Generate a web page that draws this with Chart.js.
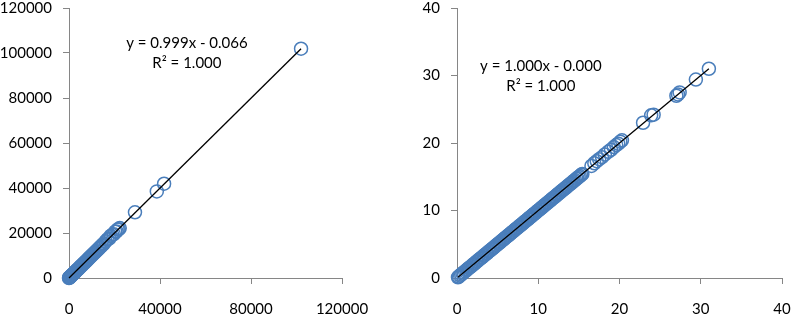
<!DOCTYPE html>
<html>
<head>
<meta charset="utf-8">
<script src="https://cdn.jsdelivr.net/npm/chart.js@4/dist/chart.umd.min.js"></script>
<style>
  body { margin: 0; background: #fff; }
  #wrap { position: relative; width: 793px; height: 315px; }
  canvas { position: absolute; top: 0; }
</style>
</head>
<body>
<div id="wrap">
  <canvas id="leftChart" width="400" height="315" style="left:0"></canvas>
  <canvas id="rightChart" width="393" height="315" style="left:400px"></canvas>
</div>
<script>
// Left panel data
const leftX = [0, 120, 260, 410, 580, 760, 950, 1150, 1380, 1600, 1850, 2100, 2380, 2650, 2950,
  3250, 3560, 3880, 4200, 4550, 4900, 5250, 5620, 6000, 6380, 6770, 7150, 7560, 7980, 8400,
  8820, 9250, 9700, 10150, 10600, 11050, 11500, 11950, 12400, 12850, 13300, 13800, 14300, 14800,
  15300, 16100, 16900, 17600, 18300, 19000, 19700, 20300, 20900, 21400, 21900, 22300,
  29000, 38600, 41800, 102000];
const leftY = [0, 118, 262, 409, 577, 761, 948, 1149, 1379, 1598, 1848, 2098, 2380, 2647, 2948,
  3247, 3557, 3876, 4197, 4546, 4895, 5246, 5614, 5995, 6374, 6763, 7143, 7553, 7971, 8392,
  8811, 9241, 9690, 10140, 10590, 11040, 11488, 11938, 12388, 12837, 13287, 13786, 14286, 14785,
  15284, 16300, 17200, 17500, 18700, 19200, 19500, 20600, 20700, 21600, 21700, 22200,
  29200, 38500, 41900, 101900];
const leftFit = { slope: 0.999, intercept: -0.066 };
const leftLabels = ['y = 0.999x - 0.066', 'R\u00b2 = 1.000'];

// Right panel data
const rightX = [0.12, 0.21, 0.38, 0.52, 0.67, 0.81, 0.99, 1.13, 1.27, 1.44,
  1.58, 1.73, 1.92, 2.04, 2.19, 2.37, 2.50, 2.66, 2.83, 2.97,
  3.11, 3.28, 3.42, 3.57, 3.71, 3.89, 4.02, 4.16, 4.33, 4.47,
  4.62, 4.78, 4.91, 5.07, 5.22, 5.36, 5.53, 5.68, 5.81, 5.96,
  6.13, 6.27, 6.41, 6.58, 6.72, 6.86, 7.03, 7.18, 7.31, 7.47,
  7.62, 7.77, 7.93, 8.06, 8.22, 8.37, 8.51, 8.68, 8.82, 8.96,
  9.12, 9.27, 9.43, 9.56, 9.71, 9.88, 10.02, 10.17, 10.33, 10.46,
  10.62, 10.77, 10.91, 11.08, 11.21, 11.37, 11.52, 11.66, 11.83, 11.97,
  12.11, 12.28, 12.42, 12.57, 12.73, 12.88, 13.02, 13.16, 13.33, 13.47,
  13.61, 13.78, 13.92, 14.06, 14.23, 14.37, 14.52, 14.68, 14.81, 14.97,
  15.12, 15.28, 15.43,
  16.55, 16.9, 17.2, 17.5, 17.85, 18.2, 18.6, 18.95, 19.3, 19.6, 19.85, 20.1, 20.3,
  22.9, 23.9, 24.2, 27.0, 27.2, 27.4, 29.4, 31.0];
const rightY = [0.11, 0.22, 0.37, 0.53, 0.66, 0.82, 0.98, 1.14, 1.26, 1.45,
  1.57, 1.74, 1.91, 2.05, 2.18, 2.38, 2.49, 2.67, 2.82, 2.98,
  3.10, 3.29, 3.41, 3.58, 3.70, 3.90, 4.01, 4.17, 4.32, 4.48,
  4.61, 4.79, 4.90, 5.08, 5.21, 5.37, 5.52, 5.69, 5.80, 5.97,
  6.12, 6.28, 6.40, 6.59, 6.71, 6.87, 7.02, 7.19, 7.30, 7.48,
  7.61, 7.78, 7.92, 8.07, 8.21, 8.38, 8.50, 8.69, 8.81, 8.97,
  9.11, 9.28, 9.42, 9.57, 9.70, 9.89, 10.01, 10.18, 10.32, 10.47,
  10.61, 10.78, 10.90, 11.09, 11.20, 11.38, 11.51, 11.67, 11.82, 11.98,
  12.10, 12.29, 12.41, 12.58, 12.72, 12.89, 13.01, 13.17, 13.32, 13.48,
  13.60, 13.79, 13.91, 14.07, 14.22, 14.38, 14.51, 14.69, 14.80, 14.98,
  15.11, 15.29, 15.42,
  16.6, 17.0, 17.3, 17.6, 17.9, 18.3, 18.7, 19.0, 19.4, 19.7, 19.9, 20.2, 20.4,
  23.0, 24.1, 24.2, 27.0, 27.2, 27.5, 29.4, 31.0];
const rightFit = { slope: 1.000, intercept: -0.000 };
const rightLabels = ['y = 1.000x - 0.000', 'R\u00b2 = 1.000'];

const axisGray = '#868686';
const markerBlue = '#4a7ebb';
const fontSpec = { family: 'Lato, "Open Sans", sans-serif', size: 15 };

// draws the trendline equation text
const fitLabel = {
    id: 'fitLabel',
    afterDatasetsDraw(chart, args, opts) {
        const { ctx, chartArea: a } = chart;
        const x = a.left + opts.fx * (a.right - a.left);
        const y = a.top + opts.fy * (a.bottom - a.top);
        ctx.save();
        ctx.font = '15px Lato, "Open Sans", sans-serif';
        ctx.fillStyle = '#000';
        ctx.textAlign = 'center';
        ctx.textBaseline = 'middle';
        opts.lines.forEach((t, i) => ctx.fillText(t, x, y + i * 20));
        ctx.restore();
    }
};

function axis(max, step, pad, fitFn) {
    return {
        type: 'linear',
        min: 0,
        max: max,
        ticks: { stepSize: step, color: '#000', font: fontSpec, padding: pad, callback: v => String(v) },
        grid: { drawOnChartArea: false, drawTicks: true, tickLength: 6, color: axisGray },
        border: { display: true, color: axisGray, width: 1 },
        afterFit: fitFn
    };
}

function makeChart(id, xs, ys, fit, labels, cfg) {
    const points = xs.map((x, i) => ({ x: x, y: ys[i] }));
    const x0 = xs[0], x1 = xs[xs.length - 1];
    const trend = [
        { x: x0, y: fit.slope * x0 + fit.intercept },
        { x: x1, y: fit.slope * x1 + fit.intercept }
    ];
    return new Chart(document.getElementById(id), {
        type: 'scatter',
        data: {
            datasets: [{
                data: points,
                pointRadius: 6.5,
                pointBorderWidth: 1.5,
                pointBorderColor: markerBlue,
                pointBackgroundColor: 'rgba(0,0,0,0)',
                clip: false,
                order: 1
            }, {
                type: 'line',
                data: trend,
                borderColor: '#000',
                borderWidth: 1.3,
                pointRadius: 0,
                fill: false,
                clip: false,
                order: 0
            }]
        },
        options: {
            responsive: false,
            animation: false,
            layout: { padding: { top: cfg.top, right: cfg.right, bottom: 0, left: 0 } },
            plugins: {
                legend: { display: false },
                tooltip: { enabled: false },
                fitLabel: { lines: labels, fx: cfg.fx, fy: cfg.fy }
            },
            scales: {
                x: axis(cfg.xMax, cfg.xStep, 16, s => { s.height = 37; s.paddingLeft = 0; s.paddingRight = 0; }),
                y: axis(cfg.yMax, cfg.yStep, 11, s => { s.width = cfg.yWidth; s.paddingTop = 0; s.paddingBottom = 0; })
            }
        },
        plugins: [fitLabel]
    });
}

makeChart('leftChart', leftX, leftY, leftFit, leftLabels, {
    top: 7, right: 58, yWidth: 69,
    xMax: 120000, xStep: 40000, yMax: 120000, yStep: 20000,
    fx: 0.432, fy: 0.129
});

makeChart('rightChart', rightX, rightY, rightFit, rightLabels, {
    top: 8, right: 11, yWidth: 57,
    xMax: 40, xStep: 10, yMax: 40, yStep: 10,
    fx: 0.258, fy: 0.215
});
</script>
</body>
</html>
